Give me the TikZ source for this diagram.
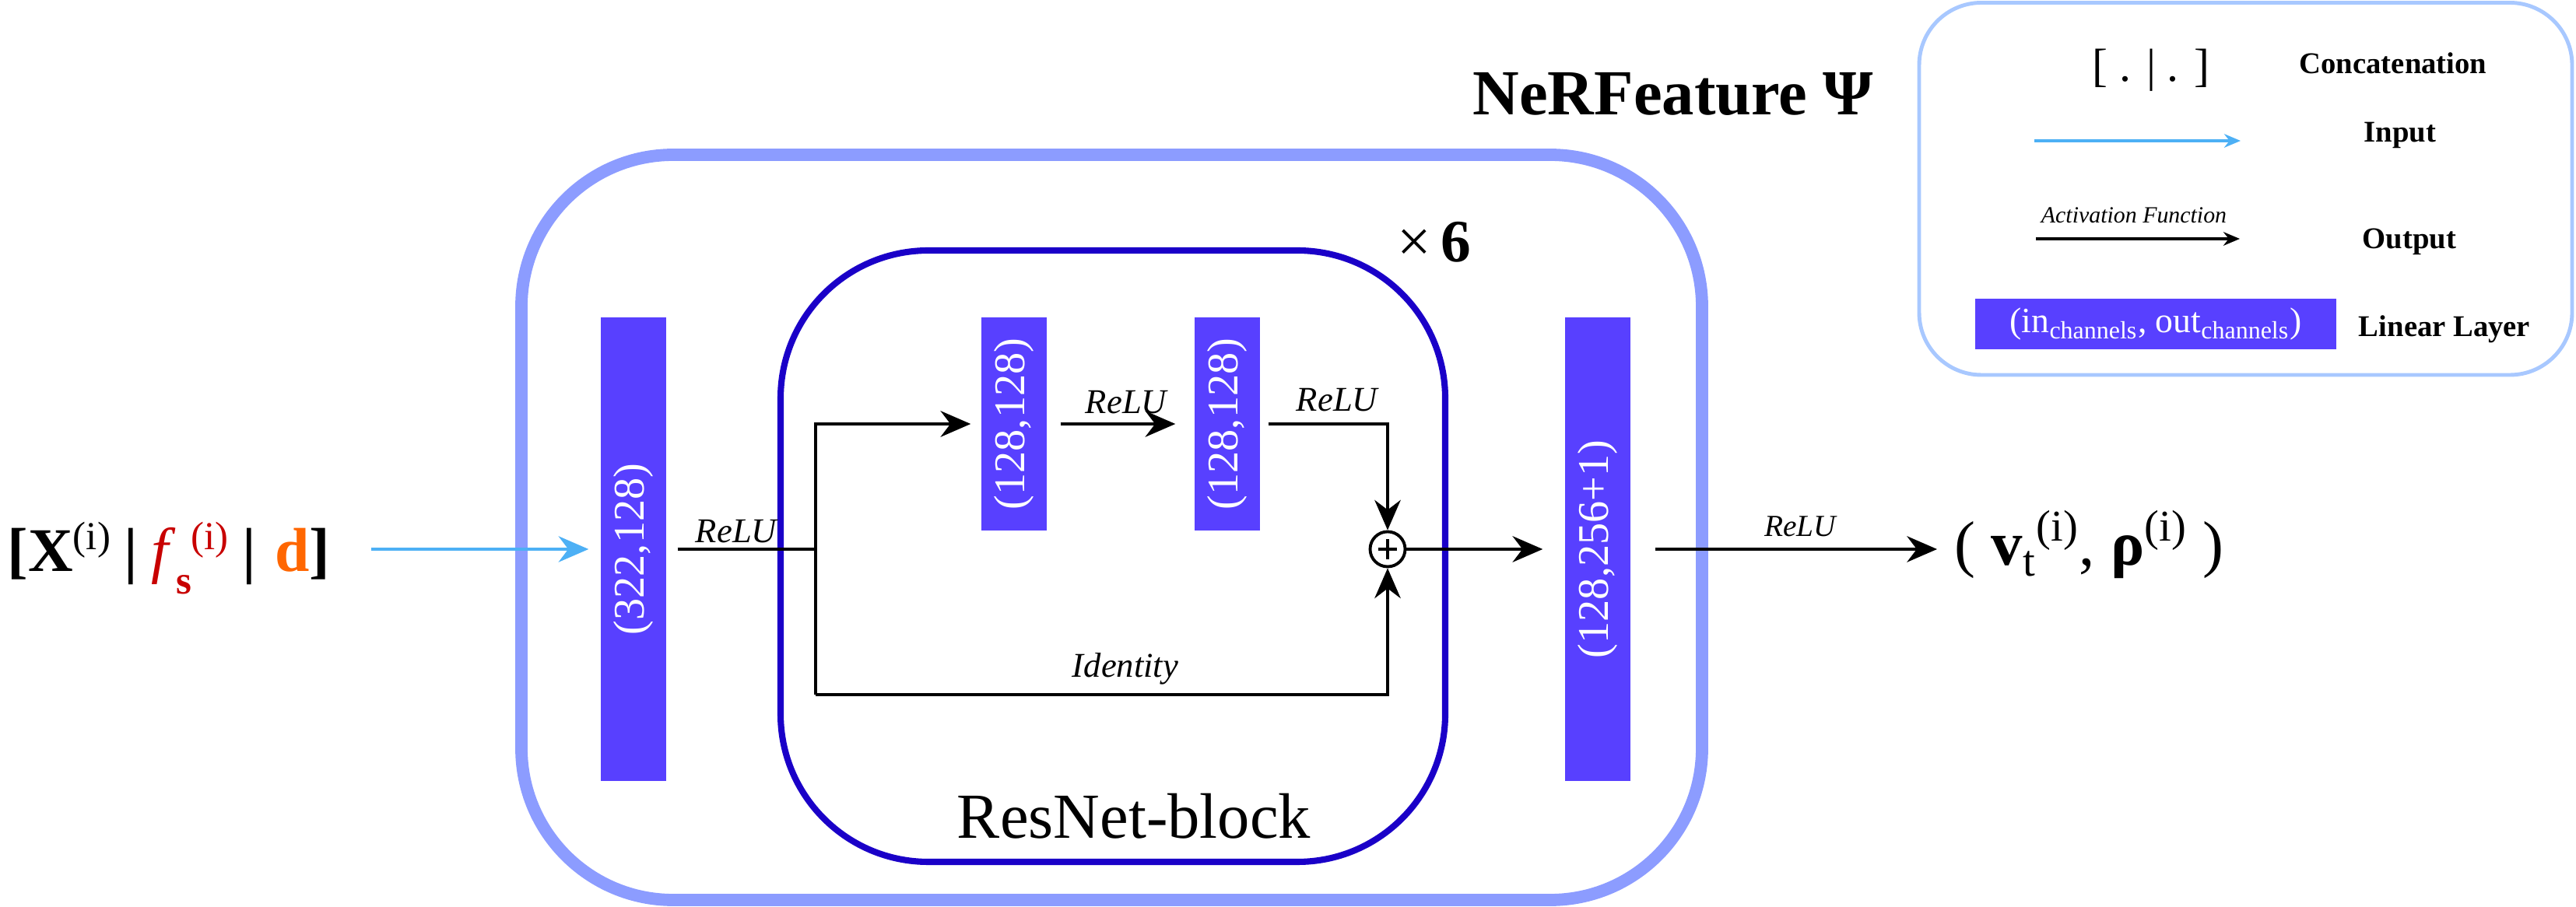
\documentclass[tikz,border=0pt]{standalone}
\usepackage{fontspec}
\setmainfont{Liberation Serif}
\usetikzlibrary{arrows.meta}

\definecolor{layerblue}{RGB}{88,64,255}
\definecolor{resblue}{RGB}{26,0,200}
\definecolor{outerblue}{RGB}{140,156,255}
\definecolor{legendblue}{RGB}{168,200,255}
\definecolor{inputblue}{RGB}{77,176,245}
\definecolor{featred}{RGB}{200,0,0}
\definecolor{dirorange}{RGB}{255,102,0}

% small raised and lowered indices for the input text
\newcommand{\upidx}[1]{\raisebox{8pt}{\fontsize{14.5}{14.5}\selectfont\mdseries #1}}
\newcommand{\lowidx}[1]{\raisebox{-8pt}{\fontsize{14.5}{14.5}\selectfont #1}}

\begin{document}
\begin{tikzpicture}[
    layer/.style={rectangle, fill=layerblue, text=white, inner sep=0pt, minimum width=0.84cm, font=\fontsize{16}{19}\selectfont},
    wire/.style={line width=1.2pt},
    conn/.style={line width=1.2pt, -{Stealth[length=11pt, width=9.5pt]}},
    inarrow/.style={inputblue, line width=0.9pt, -{Stealth[length=11pt, width=9.5pt]}},
    legarrow/.style={line width=0.9pt, -{Stealth[length=6pt, width=5pt]}},
    act/.style={font=\fontsize{12.7}{15}\selectfont\itshape, inner sep=0pt, anchor=base},
    legtext/.style={font=\fontsize{11}{13}\selectfont\bfseries, inner sep=0pt, anchor=base},
]
    \useasboundingbox (0,0) rectangle (33.10,11.66);

    % the boxes
    \draw[outerblue, line width=4.5pt, rounded corners=1.95cm] (6.70,0.09) rectangle (21.87,9.67);
    \draw[resblue, line width=2.3pt, rounded corners=1.9cm] (10.03,0.58) rectangle (18.57,8.44);
    \draw[legendblue, line width=1.4pt, rounded corners=0.8cm] (24.66,6.84) rectangle (33.05,11.625);

    % these are the linear layers
    \node[layer, minimum height=5.96cm] (l1) at (8.14,4.60) {\rotatebox{90}{(322,128)}};
    \node[layer, minimum height=2.74cm] (l2) at (13.03,6.21) {\rotatebox{90}{(128,128)}};
    \node[layer, minimum height=2.74cm] (l3) at (15.77,6.21) {\rotatebox{90}{(128,128)}};
    \node[layer, minimum height=5.96cm] (l4) at (20.53,4.60) {\rotatebox{90}{(128,256+1)}};

    \node[circle, draw, line width=1.1pt, inner sep=0pt, minimum size=0.45cm] (sum) at (17.83,4.60) {};
    \draw[line width=0.9pt] ([xshift=-0.12cm]sum.center) -- ([xshift=0.12cm]sum.center);
    \draw[line width=0.9pt] ([yshift=-0.13cm]sum.center) -- ([yshift=0.13cm]sum.center);

    \coordinate (split) at (10.48,4.60);
    \coordinate (topl) at (10.48,6.21);
    \coordinate (botl) at (10.48,2.73);
    \coordinate (botr) at (17.83,2.73);
    \coordinate (topr) at (17.83,6.21);

    % input and output
    \node[anchor=base west, inner sep=0pt, font=\fontsize{22.7}{27}\selectfont\bfseries] (in) at (0.09,4.31)
        {[X\upidx{(i)}\hspace{0.22em}|\hspace{0.22em}{\color{featred}\textit{\mdseries f}\lowidx{s}\upidx{(i)}}\hspace{0.22em}|\hspace{0.3em}{\color{dirorange}d}]};
    \node[anchor=base west, inner sep=0pt, font=\fontsize{23}{28}\selectfont] (out) at (25.11,4.39)
        {( \textbf{v}\textsubscript{t}\textsuperscript{(i)}, \textbf{ρ}\textsuperscript{(i)} )};

    % the connectors
    \draw[inarrow, shorten <=0.52cm, shorten >=0.15cm] (in.east |- l1.west) -- (l1.west);
    \draw[wire, shorten <=0.14cm] (l1.east) -- (split);
    \draw[conn, shorten >=0.13cm] (botl) -- (topl) -- (l2.west);
    \draw[conn, shorten <=0.17cm, shorten >=0.24cm] (l2.east) -- (l3.west);
    \draw[conn, shorten <=0.1cm] (l3.east) -- (topr) -- (sum.north);
    \draw[conn] (botl) -- (botr) -- (sum.south);
    \draw[conn, shorten >=0.28cm] (sum.east) -- (l4.west);
    \draw[conn, shorten <=0.31cm, shorten >=0.22cm] (l4.east) -- (l4.east -| out.west);

    \node[act] (relu1) at (9.46,4.68) {ReLU};
    \node[act] (relu2) at (14.47,6.34) {ReLU};
    \node[act] (relu3) at (17.18,6.37) {ReLU};
    \node[act, font=\fontsize{11.2}{14}\selectfont\itshape] (relu4) at (23.13,4.76) {ReLU};
    \node[act] (ident) at (14.46,2.95) {Identity};

    % titles
    \node[anchor=base, inner sep=0pt, font=\fontsize{23.5}{28}\selectfont\bfseries] (title) at (21.50,10.18) {NeRFeature Ψ};
    \node[anchor=base, inner sep=0pt, font=\fontsize{22}{26}\selectfont] (reps) at (18.43,8.29) {×\,\textbf{6}};
    \node[anchor=base, inner sep=0pt, font=\fontsize{23.5}{28}\selectfont] (resname) at (14.57,0.88) {ResNet-block};

    % the legend
    \node[anchor=base, inner sep=0pt, font=\fontsize{17}{20}\selectfont] (concat) at (27.64,10.61) {[ . | . ]};
    \node[legtext] (concatname) at (30.75,10.71) {Concatenation};
    \coordinate (ina) at (26.14,9.85);
    \coordinate (inb) at (28.79,9.85);
    \draw[legarrow, inputblue] (ina) -- (inb);
    \node[legtext] (inname) at (30.84,9.83) {Input};
    \node[act, font=\fontsize{8.5}{10}\selectfont\itshape] (actname) at (27.42,8.79) {Activation Function};
    \coordinate (outa) at (26.16,8.59);
    \coordinate (outb) at (28.78,8.59);
    \draw[legarrow] (outa) -- (outb);
    \node[legtext] (outname) at (30.96,8.46) {Output};
    \node[layer, minimum width=4.64cm, minimum height=0.65cm, font=\fontsize{13}{15}\selectfont] (leglayer) at (27.70,7.49)
        {(in\textsubscript{channels}, out\textsubscript{channels})};
    \node[legtext] (layername) at (31.41,7.33) {Linear Layer};

\end{tikzpicture}
\end{document}
